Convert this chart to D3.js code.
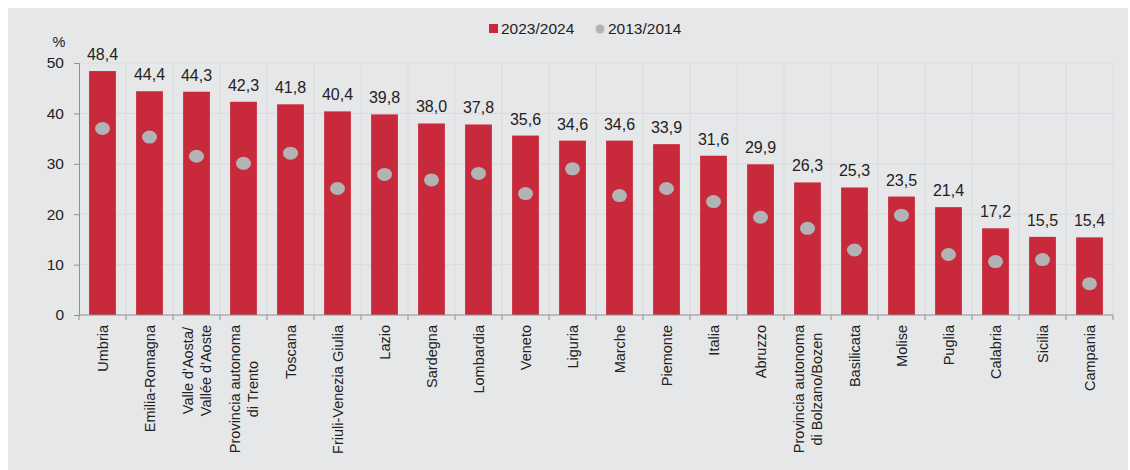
<!DOCTYPE html>
<html>
<head>
<meta charset="utf-8">
<script src="https://cdn.jsdelivr.net/npm/d3@7"></script>
<style>
  body { margin: 0; background: #fff; }
  svg { display: block; font-family: "Liberation Sans", Arial, sans-serif; }
</style>
</head>
<body>
<div id="chart"></div>
<script>
var regions = [
    'Umbria', 'Emilia-Romagna', "Valle d'Aosta/\nVallée d'Aoste", 'Provincia autonoma\ndi Trento',
    'Toscana', 'Friuli-Venezia Giulia', 'Lazio', 'Sardegna', 'Lombardia', 'Veneto', 'Liguria',
    'Marche', 'Piemonte', 'Italia', 'Abruzzo', 'Provincia autonoma\ndi Bolzano/Bozen',
    'Basilicata', 'Molise', 'Puglia', 'Calabria', 'Sicilia', 'Campania'
];
var values2024 = [48.4, 44.4, 44.3, 42.3, 41.8, 40.4, 39.8, 38.0, 37.8, 35.6, 34.6,
    34.6, 33.9, 31.6, 29.9, 26.3, 25.3, 23.5, 21.4, 17.2, 15.5, 15.4];
var values2014 = [37.0, 35.3, 31.5, 30.1, 32.1, 25.1, 27.9, 26.8, 28.1, 24.1, 29.0,
    23.7, 25.1, 22.5, 19.4, 17.2, 12.9, 19.8, 12.0, 10.6, 11.0, 6.2];
var yTicks = [0, 10, 20, 30, 40, 50];
var seriesNames = ['2023/2024', '2013/2014'];

var width = 1130,
    height = 470;
var margin = { top: 63, left: 79, right: 17, bottom: 155 };
var barColor = '#c8293b',
    dotColor = '#b1b3b4',
    bgColor = '#e6e7e9',
    textColor = '#222';

var svg = d3.select('#chart')
    .append('svg')
    .attr('width', width)
    .attr('height', height);

svg.append('rect')
    .attr('x', 8)
    .attr('y', 8)
    .attr('width', width - 10)
    .attr('height', height - 8)
    .attr('fill', bgColor);

var xScale = d3.scaleBand()
    .domain(regions)
    .range([margin.left, width - margin.right])
    .paddingInner(0.43)
    .paddingOuter(0.215);

var yScale = d3.scaleLinear()
    .domain([0, 50])
    .range([height - margin.bottom, margin.top]);

// grid
var bandStep = xScale.step();
var bounds = d3.range(regions.length + 1).map(function (i) {
    return margin.left + i * bandStep;
});

svg.append('g')
    .selectAll('line')
    .data(yTicks.slice(1))
    .enter()
    .append('line')
    .attr('x1', margin.left)
    .attr('x2', width - margin.right)
    .attr('y1', function (d) { return yScale(d); })
    .attr('y2', function (d) { return yScale(d); })
    .attr('stroke', '#dadbdd')
    .attr('stroke-width', 1);

svg.append('g')
    .selectAll('line')
    .data(bounds.slice(1))
    .enter()
    .append('line')
    .attr('x1', function (d) { return d; })
    .attr('x2', function (d) { return d; })
    .attr('y1', yScale(50))
    .attr('y2', yScale(0))
    .attr('stroke', '#dadbdd')
    .attr('stroke-width', 1);

// bars
svg.append('g')
    .selectAll('rect')
    .data(values2024)
    .enter()
    .append('rect')
    .attr('x', function (d, i) { return xScale(regions[i]); })
    .attr('y', function (d) { return yScale(d); })
    .attr('width', xScale.bandwidth())
    .attr('height', function (d) { return yScale(0) - yScale(d); })
    .attr('fill', barColor);

// value labels
svg.append('g')
    .selectAll('text')
    .data(values2024)
    .enter()
    .append('text')
    .attr('x', function (d, i) { return xScale(regions[i]) + xScale.bandwidth() / 2; })
    .attr('y', function (d) { return yScale(d) - 11; })
    .attr('text-anchor', 'middle')
    .attr('font-size', '16px')
    .attr('fill', textColor)
    .text(function (d) { return d.toFixed(1).replace('.', ','); });

// dots
svg.append('g')
    .selectAll('ellipse')
    .data(values2014)
    .enter()
    .append('ellipse')
    .attr('cx', function (d, i) { return xScale(regions[i]) + xScale.bandwidth() / 2; })
    .attr('cy', function (d) { return yScale(d); })
    .attr('rx', 7.5)
    .attr('ry', 6.5)
    .attr('fill', dotColor);

// y axis
var yAxis = d3.axisLeft(yScale).tickValues(yTicks).tickSize(5).tickPadding(10);
var yG = svg.append('g')
    .attr('transform', 'translate(' + margin.left + ',0)')
    .call(yAxis);
yG.select('.domain').attr('stroke', '#8f8f8f');
yG.selectAll('.tick line').attr('stroke', '#8f8f8f');
yG.selectAll('.tick text')
    .attr('font-size', '15.5px')
    .attr('font-family', '"Liberation Sans", Arial, sans-serif')
    .attr('fill', textColor);

svg.append('text')
    .attr('x', 59)
    .attr('y', 47)
    .attr('text-anchor', 'middle')
    .attr('font-size', '14.5px')
    .attr('fill', textColor)
    .text('%');

// x axis line and ticks at band boundaries
var xAxisY = yScale(0);
svg.append('line')
    .attr('x1', margin.left)
    .attr('x2', width - margin.right)
    .attr('y1', xAxisY)
    .attr('y2', xAxisY)
    .attr('stroke', '#8f8f8f');

svg.append('g')
    .selectAll('line')
    .data(bounds)
    .enter()
    .append('line')
    .attr('x1', function (d) { return d; })
    .attr('x2', function (d) { return d; })
    .attr('y1', xAxisY)
    .attr('y2', xAxisY + 5)
    .attr('stroke', '#8f8f8f');

// x labels, rotated, centred lines
var labelTop = xAxisY + 10;
var labelG = svg.append('g');
regions.forEach(function (name, i) {
    var lines = name.split('\n');
    var cx = xScale(name) + xScale.bandwidth() / 2;
    var t = labelG.append('text')
        .attr('font-size', '14.5px')
        .attr('fill', textColor)
        .attr('text-anchor', 'middle');
    lines.forEach(function (ln, j) {
        t.append('tspan')
            .attr('x', 0)
            .attr('y', (j - (lines.length - 1) / 2) * 18)
            .text(ln);
    });
    var maxLen = 0;
    t.selectAll('tspan').each(function () {
        maxLen = Math.max(maxLen, this.getComputedTextLength());
    });
    t.attr('dominant-baseline', 'central')
        .attr('transform', 'translate(' + cx + ',' + (labelTop + maxLen / 2) + ') rotate(-90)');
});

// legend
var legend = svg.append('g');
legend.append('rect')
    .attr('x', 489)
    .attr('y', 24)
    .attr('width', 9)
    .attr('height', 9)
    .attr('fill', barColor);
legend.append('text')
    .attr('x', 501)
    .attr('y', 34)
    .attr('font-size', '15.5px')
    .attr('fill', textColor)
    .text(seriesNames[0]);
legend.append('circle')
    .attr('cx', 600)
    .attr('cy', 29)
    .attr('r', 4.5)
    .attr('fill', dotColor);
legend.append('text')
    .attr('x', 608)
    .attr('y', 34)
    .attr('font-size', '15.5px')
    .attr('fill', textColor)
    .text(seriesNames[1]);
</script>
</body>
</html>
